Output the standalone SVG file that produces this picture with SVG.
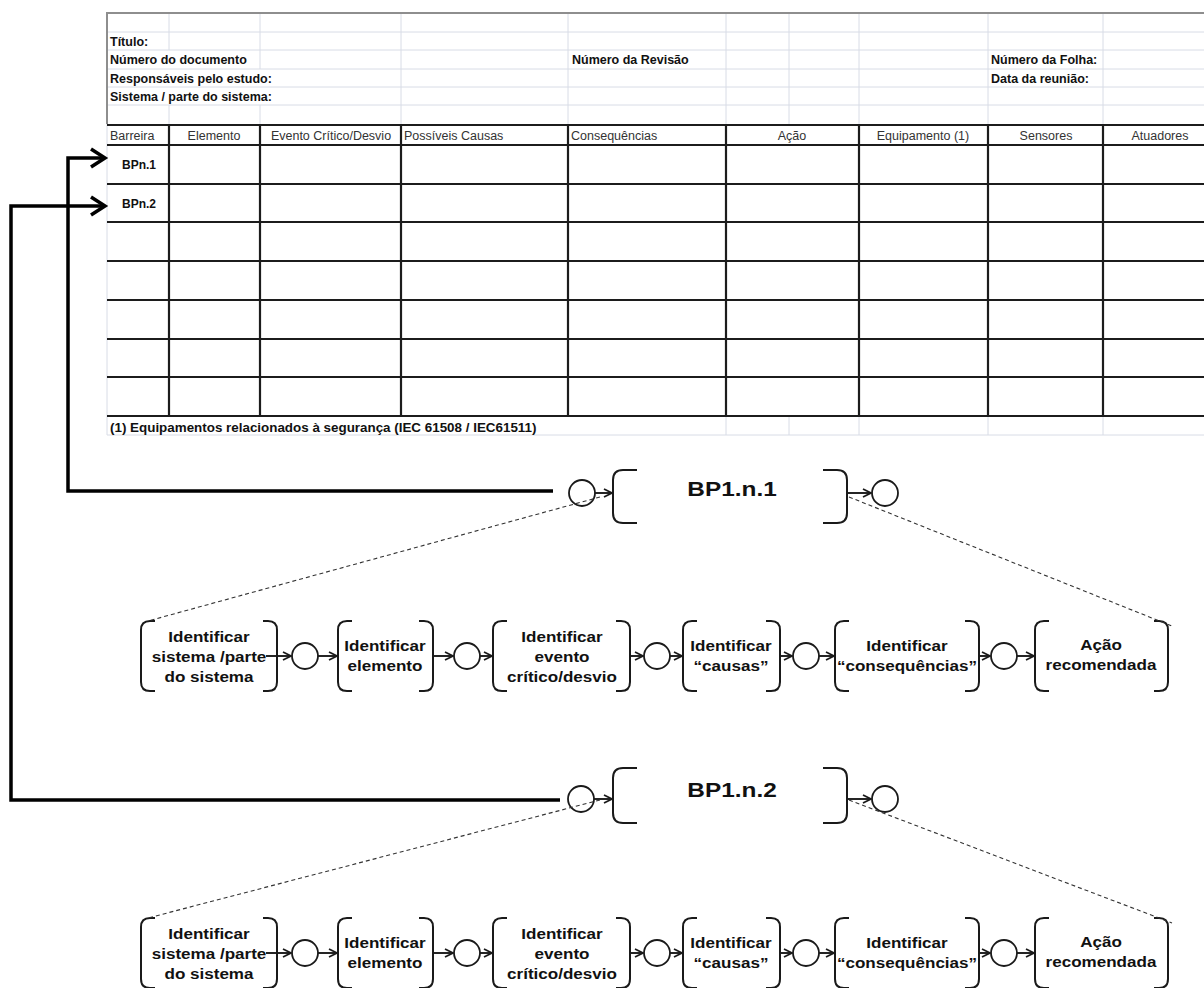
<svg xmlns="http://www.w3.org/2000/svg" width="1204" height="988" viewBox="0 0 1204 988">
  <defs>
    <style>
      .grid { stroke: #d8dce6; stroke-width: 1; fill: none; }
      .edge { stroke: #8e8e8e; stroke-width: 2; fill: none; }
      .rule { stroke: #1c1c1c; stroke-width: 2.2; fill: none; }
      .lbl { font-family: "Liberation Sans", Arial, sans-serif; font-size: 12.5px; font-weight: bold; fill: #111; }
      .col { font-family: "Liberation Sans", Arial, sans-serif; font-size: 12.5px; fill: #333; }
      .br { fill: none; stroke: #1a1a1a; stroke-width: 2; }
      .ev { fill: #fff; stroke: #1a1a1a; stroke-width: 1.8; }
      .flow { fill: none; stroke: #1a1a1a; stroke-width: 1.9; marker-end: url(#arr); }
      .dash { fill: none; stroke: #333; stroke-width: 1.1; stroke-dasharray: 4 3; }
      .link { fill: none; stroke: #000; stroke-width: 3.5; stroke-linejoin: miter; }
      .bp { font-family: "Liberation Sans", Arial, sans-serif; font-size: 20px; font-weight: bold; fill: #111; text-anchor: middle; }
      .tx { font-family: "Liberation Sans", Arial, sans-serif; font-size: 15.5px; font-weight: bold; fill: #111; text-anchor: middle; }
    </style>
    <marker id="arr" viewBox="0 0 10 10" refX="9" refY="5" markerWidth="10" markerHeight="10" markerUnits="userSpaceOnUse" orient="auto">
      <path d="M1,1 L9,5 L1,9" fill="none" stroke="#1a1a1a" stroke-width="1.8"/>
    </marker>
  </defs>

  <rect width="1204" height="988" fill="#fff"/>

  <!-- worksheet -->
  <g id="table">
    <!-- light cell grid of the header block -->
    <path class="grid" d="M107,32 H1204 M107,50 H1204 M107,69 H1204 M107,87 H1204 M107,105 H1204"/>
    <path class="grid" d="M169,13 V50 M169,105 V124 M260,13 V69 M260,105 V124 M401,13 V124 M568,13 V124 M726,13 V124 M789,13 V124 M859,13 V124 M988,13 V124 M1103,13 V124"/>
    <!-- footer row grid -->
    <path class="grid" d="M107,435 H1204 M726,416 V435 M789,416 V435 M859,416 V435 M988,416 V435 M1103,416 V435 M107,124 V435"/>
    <!-- sheet border -->
    <path class="edge" d="M107,124 V13 H1204"/>
    <!-- main table rules -->
    <path class="rule" d="M107,125 H1204 M107,145 H1204 M107,184 H1204 M107,222 H1204 M107,261 H1204 M107,300 H1204 M107,339 H1204 M107,377 H1204 M107,416 H1204"/>
    <path class="rule" d="M169,125 V416 M260,125 V416 M401,125 V416 M568,125 V416 M726,125 V416 M859,125 V416 M988,125 V416 M1103,125 V416"/>

    <text class="lbl" x="110" y="46">Título:</text>
    <text class="lbl" x="110" y="64">Número do documento</text>
    <text class="lbl" x="572" y="64">Número da Revisão</text>
    <text class="lbl" x="991" y="64">Número da Folha:</text>
    <text class="lbl" x="110" y="83">Responsáveis pelo estudo:</text>
    <text class="lbl" x="991" y="83">Data da reunião:</text>
    <text class="lbl" x="110" y="101">Sistema / parte do sistema:</text>

    <text class="col" x="110" y="140">Barreira</text>
    <text class="col" x="214" y="140" text-anchor="middle">Elemento</text>
    <text class="col" x="331" y="140" text-anchor="middle">Evento Crítico/Desvio</text>
    <text class="col" x="404" y="140">Possíveis Causas</text>
    <text class="col" x="571" y="140">Consequências</text>
    <text class="col" x="792" y="140" text-anchor="middle">Ação</text>
    <text class="col" x="923" y="140" text-anchor="middle">Equipamento (1)</text>
    <text class="col" x="1046" y="140" text-anchor="middle">Sensores</text>
    <text class="col" x="1160" y="140" text-anchor="middle">Atuadores</text>

    <text class="lbl" x="139" y="169" text-anchor="middle" style="font-size:12px">BPn.1</text>
    <text class="lbl" x="139" y="208" text-anchor="middle" style="font-size:12px">BPn.2</text>

    <text class="lbl" x="110" y="432" style="font-size:13.4px">(1) Equipamentos relacionados à segurança (IEC 61508 / IEC61511)</text>
  </g>

  <!-- barrier BP1.n.1 -->
  <g id="bp1-n-1">
    <circle class="ev" cx="582" cy="493" r="13"/>
    <path class="br" d="M637,470 H623 Q613,470 613,480 V513 Q613,523 623,523 H637"/>
    <path class="br" d="M823,470 H837 Q847,470 847,480 V513 Q847,523 837,523 H823"/>
    <circle class="ev" cx="885" cy="493" r="13"/>
    <text class="bp" transform="translate(732,496) scale(1.22,1)">BP1.n.1</text>
  </g>

  <!-- barrier BP1.n.2 -->
  <g id="bp1-n-2">
    <circle class="ev" cx="581" cy="799" r="13"/>
    <path class="br" d="M637,768 H623 Q613,768 613,778 V813 Q613,823 623,823 H637"/>
    <path class="br" d="M823,768 H837 Q847,768 847,778 V813 Q847,823 837,823 H823"/>
    <circle class="ev" cx="885" cy="799" r="13"/>
    <text class="bp" transform="translate(732,797) scale(1.22,1)">BP1.n.2</text>
  </g>

  <!-- first detailed step sequence -->
  <g id="steps-1">
    <g id="s1-sistema">
      <path class="br" d="M155,621 H150 Q141,621 141,630 V682 Q141,691 150,691 H155"/>
      <path class="br" d="M263,621 H268 Q277,621 277,630 V682 Q277,691 268,691 H263"/>
      <g class="tx" transform="translate(209,0) scale(1.1,1)">
        <text x="0" y="642">Identificar</text>
        <text x="0" y="662">sistema /parte</text>
        <text x="0" y="682">do sistema</text>
      </g>
    </g>
    <circle id="s1-e1" class="ev" cx="305" cy="656" r="13"/>
    <g id="s1-elemento">
      <path class="br" d="M352,621 H347 Q338,621 338,630 V682 Q338,691 347,691 H352"/>
      <path class="br" d="M419,621 H424 Q433,621 433,630 V682 Q433,691 424,691 H419"/>
      <g class="tx" transform="translate(385,0) scale(1.1,1)">
        <text x="0" y="651">Identificar</text>
        <text x="0" y="671">elemento</text>
      </g>
    </g>
    <circle id="s1-e2" class="ev" cx="467" cy="656" r="13"/>
    <g id="s1-evento">
      <path class="br" d="M507,621 H502 Q493,621 493,630 V682 Q493,691 502,691 H507"/>
      <path class="br" d="M616,621 H621 Q630,621 630,630 V682 Q630,691 621,691 H616"/>
      <g class="tx" transform="translate(562,0) scale(1.1,1)">
        <text x="0" y="642">Identificar</text>
        <text x="0" y="662">evento</text>
        <text x="0" y="682">crítico/desvio</text>
      </g>
    </g>
    <circle id="s1-e3" class="ev" cx="657" cy="656" r="13"/>
    <g id="s1-causas">
      <path class="br" d="M697,621 H692 Q683,621 683,630 V682 Q683,691 692,691 H697"/>
      <path class="br" d="M766,621 H771 Q780,621 780,630 V682 Q780,691 771,691 H766"/>
      <g class="tx" transform="translate(731,0) scale(1.1,1)">
        <text x="0" y="651">Identificar</text>
        <text x="0" y="671">“causas”</text>
      </g>
    </g>
    <circle id="s1-e4" class="ev" cx="806" cy="656" r="13"/>
    <g id="s1-consequencias">
      <path class="br" d="M849,621 H844 Q835,621 835,630 V682 Q835,691 844,691 H849"/>
      <path class="br" d="M965,621 H970 Q979,621 979,630 V682 Q979,691 970,691 H965"/>
      <g class="tx" transform="translate(907,0) scale(1.1,1)">
        <text x="0" y="651">Identificar</text>
        <text x="0" y="671">“consequências”</text>
      </g>
    </g>
    <circle id="s1-e5" class="ev" cx="1004" cy="656" r="13"/>
    <g id="s1-acao">
      <path class="br" d="M1049,621 H1044 Q1035,621 1035,630 V682 Q1035,691 1044,691 H1049"/>
      <path class="br" d="M1154,621 H1159 Q1168,621 1168,630 V682 Q1168,691 1159,691 H1154"/>
      <g class="tx" transform="translate(1101,0) scale(1.1,1)">
        <text x="0" y="650">Ação</text>
        <text x="0" y="670">recomendada</text>
      </g>
    </g>
  </g>

  <!-- second detailed step sequence, same layout one band lower -->
  <g id="steps-2" transform="translate(0,297)">
    <g id="s2-sistema">
      <path class="br" d="M155,621 H150 Q141,621 141,630 V682 Q141,691 150,691 H155"/>
      <path class="br" d="M263,621 H268 Q277,621 277,630 V682 Q277,691 268,691 H263"/>
      <g class="tx" transform="translate(209,0) scale(1.1,1)">
        <text x="0" y="642">Identificar</text>
        <text x="0" y="662">sistema /parte</text>
        <text x="0" y="682">do sistema</text>
      </g>
    </g>
    <circle id="s2-e1" class="ev" cx="305" cy="656" r="13"/>
    <g id="s2-elemento">
      <path class="br" d="M352,621 H347 Q338,621 338,630 V682 Q338,691 347,691 H352"/>
      <path class="br" d="M419,621 H424 Q433,621 433,630 V682 Q433,691 424,691 H419"/>
      <g class="tx" transform="translate(385,0) scale(1.1,1)">
        <text x="0" y="651">Identificar</text>
        <text x="0" y="671">elemento</text>
      </g>
    </g>
    <circle id="s2-e2" class="ev" cx="467" cy="656" r="13"/>
    <g id="s2-evento">
      <path class="br" d="M507,621 H502 Q493,621 493,630 V682 Q493,691 502,691 H507"/>
      <path class="br" d="M616,621 H621 Q630,621 630,630 V682 Q630,691 621,691 H616"/>
      <g class="tx" transform="translate(562,0) scale(1.1,1)">
        <text x="0" y="642">Identificar</text>
        <text x="0" y="662">evento</text>
        <text x="0" y="682">crítico/desvio</text>
      </g>
    </g>
    <circle id="s2-e3" class="ev" cx="657" cy="656" r="13"/>
    <g id="s2-causas">
      <path class="br" d="M697,621 H692 Q683,621 683,630 V682 Q683,691 692,691 H697"/>
      <path class="br" d="M766,621 H771 Q780,621 780,630 V682 Q780,691 771,691 H766"/>
      <g class="tx" transform="translate(731,0) scale(1.1,1)">
        <text x="0" y="651">Identificar</text>
        <text x="0" y="671">“causas”</text>
      </g>
    </g>
    <circle id="s2-e4" class="ev" cx="806" cy="656" r="13"/>
    <g id="s2-consequencias">
      <path class="br" d="M849,621 H844 Q835,621 835,630 V682 Q835,691 844,691 H849"/>
      <path class="br" d="M965,621 H970 Q979,621 979,630 V682 Q979,691 970,691 H965"/>
      <g class="tx" transform="translate(907,0) scale(1.1,1)">
        <text x="0" y="651">Identificar</text>
        <text x="0" y="671">“consequências”</text>
      </g>
    </g>
    <circle id="s2-e5" class="ev" cx="1004" cy="656" r="13"/>
    <g id="s2-acao">
      <path class="br" d="M1049,621 H1044 Q1035,621 1035,630 V682 Q1035,691 1044,691 H1049"/>
      <path class="br" d="M1154,621 H1159 Q1168,621 1168,630 V682 Q1168,691 1159,691 H1154"/>
      <g class="tx" transform="translate(1101,0) scale(1.1,1)">
        <text x="0" y="650">Ação</text>
        <text x="0" y="670">recomendada</text>
      </g>
    </g>
  </g>

  <g id="connectors">
    <!-- barrier links back into the worksheet rows -->
    <path class="link" d="M553,491 H68 V158 H104"/>
    <path class="link" d="M91,149 L105,158 L91,167"/>
    <path class="link" d="M560,800 H11 V206 H104"/>
    <path class="link" d="M91,197 L105,206 L91,215"/>

    <!-- barrier entry/exit flows -->
    <path class="flow" d="M595,493 H612"/>
    <path class="flow" d="M848,493 H871"/>
    <path class="flow" d="M594,799 H612"/>
    <path class="flow" d="M848,799 H871"/>

    <!-- expansion guides -->
    <path class="dash" d="M600,497 L148,621"/>
    <path class="dash" d="M849,497 L1172,626"/>
    <path class="dash" d="M600,800 L148,918"/>
    <path class="dash" d="M849,800 L1172,923"/>

    <!-- step flows, first sequence -->
    <path class="flow" d="M266,656 H291"/>
    <path class="flow" d="M318,656 H337"/>
    <path class="flow" d="M433,656 H453"/>
    <path class="flow" d="M480,656 H492"/>
    <path class="flow" d="M630,656 H643"/>
    <path class="flow" d="M670,656 H682"/>
    <path class="flow" d="M780,656 H792"/>
    <path class="flow" d="M819,656 H834"/>
    <path class="flow" d="M979,656 H990"/>
    <path class="flow" d="M1017,656 H1034"/>

    <!-- step flows, second sequence -->
    <path class="flow" d="M266,953 H291"/>
    <path class="flow" d="M318,953 H337"/>
    <path class="flow" d="M433,953 H453"/>
    <path class="flow" d="M480,953 H492"/>
    <path class="flow" d="M630,953 H643"/>
    <path class="flow" d="M670,953 H682"/>
    <path class="flow" d="M780,953 H792"/>
    <path class="flow" d="M819,953 H834"/>
    <path class="flow" d="M979,953 H990"/>
    <path class="flow" d="M1017,953 H1034"/>
  </g>
</svg>
